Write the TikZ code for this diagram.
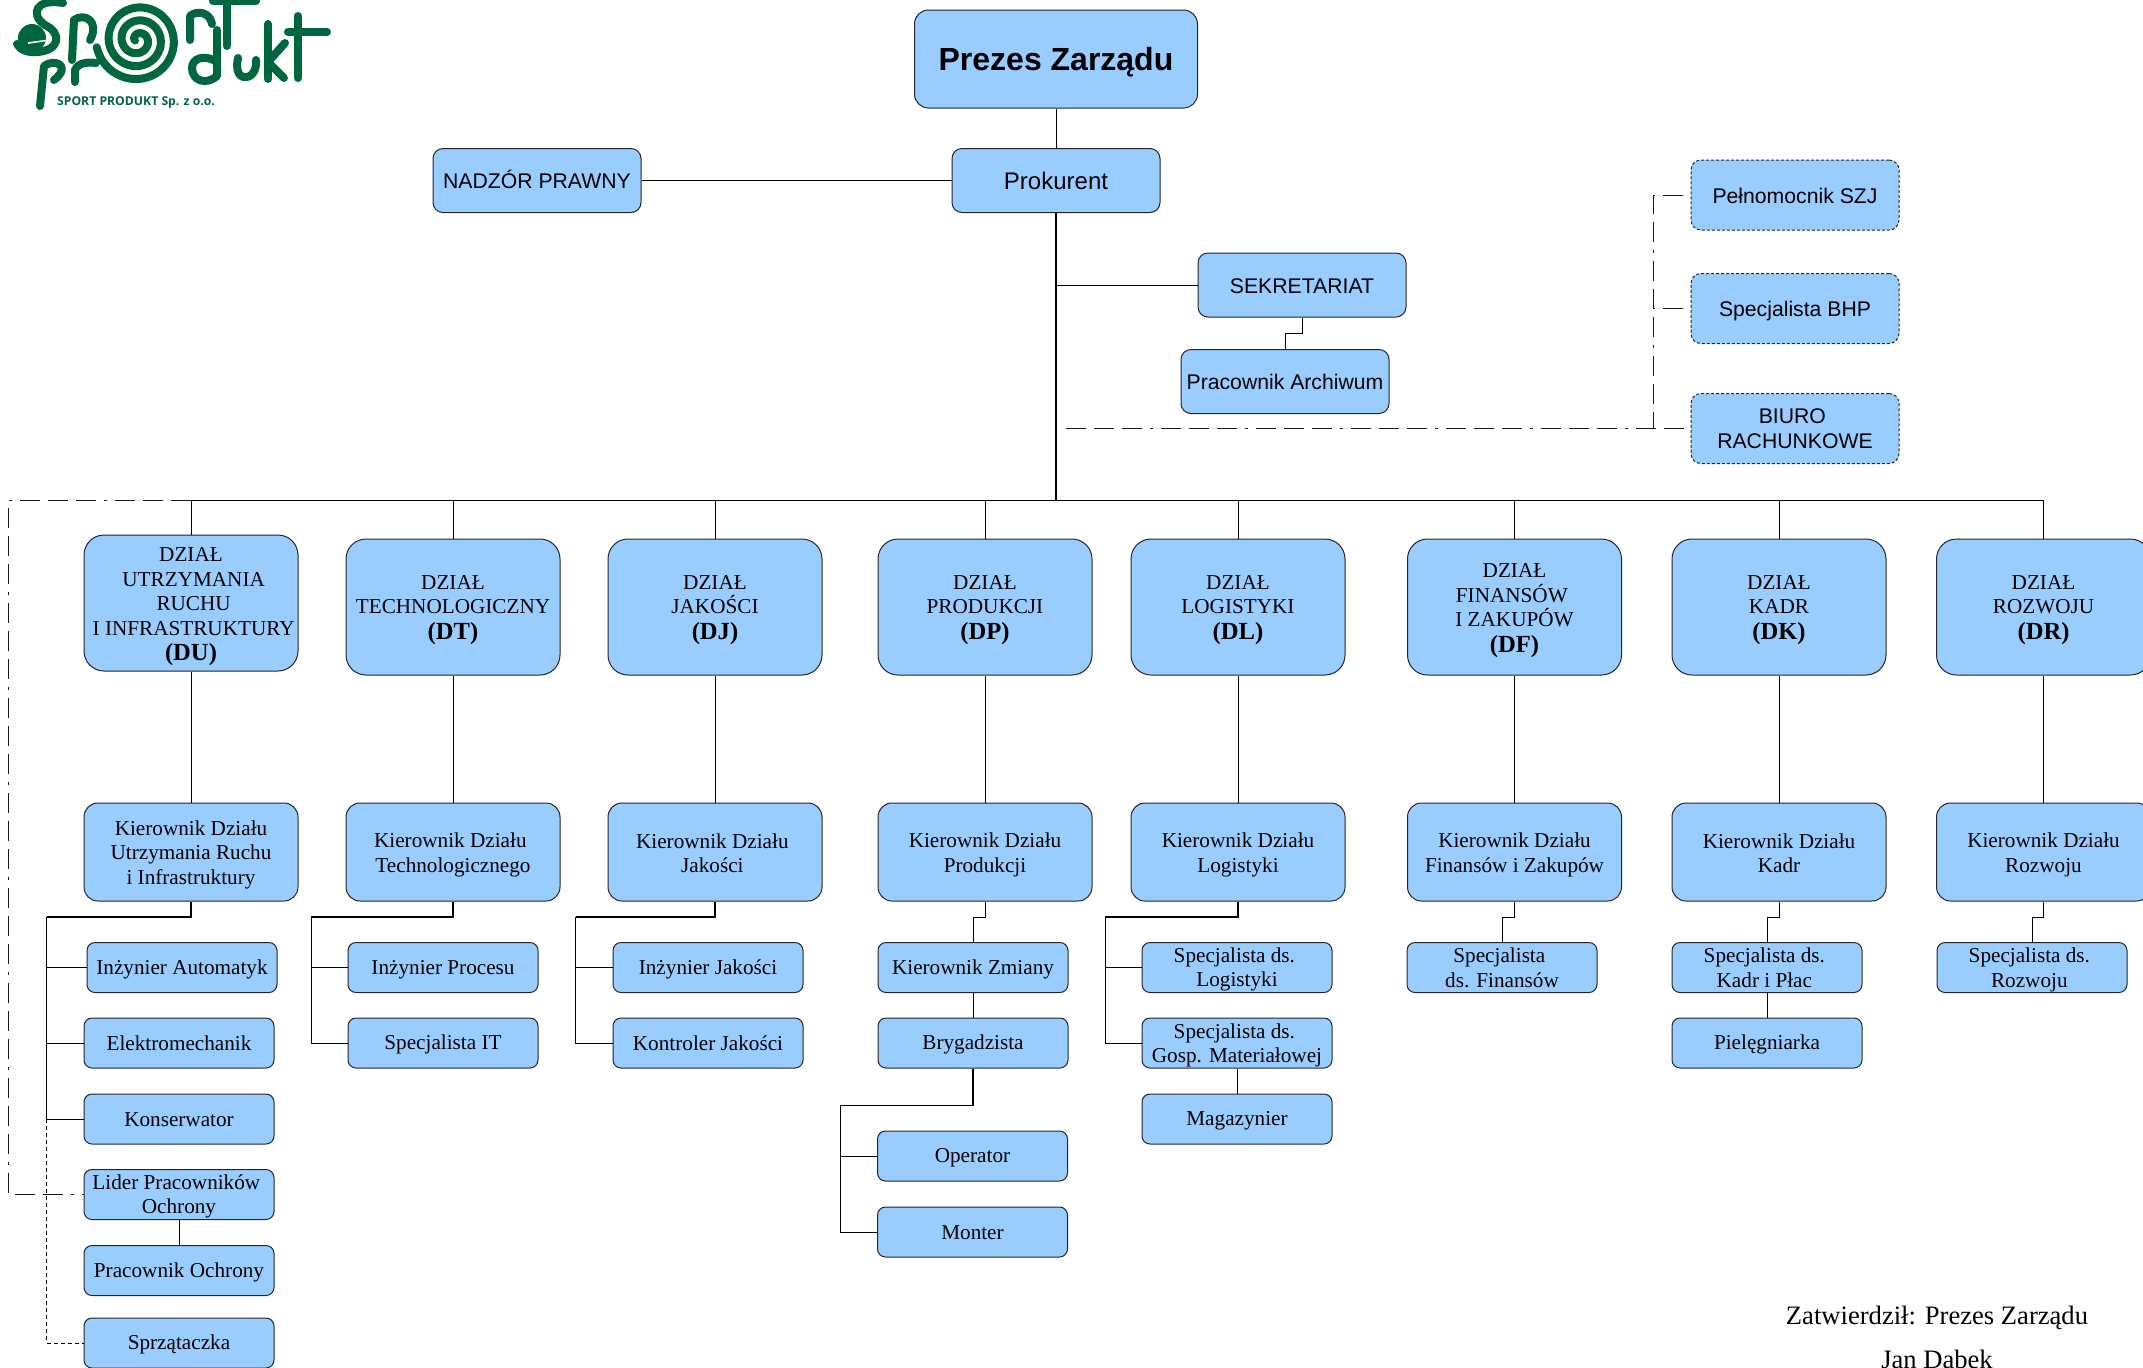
\documentclass[tikz,border=0pt]{standalone}
\usepackage{fontspec}
\setmainfont{Liberation Serif}
\setsansfont{Liberation Sans}
\newfontfamily\logofont{Open Sans}
\usepackage{tikz}
\definecolor{boxblue}{HTML}{99CCFF}
\definecolor{logogreen}{HTML}{00663F}
\newcommand{\odst}{\hbox{\kern2.65pt}}
\newcommand{\skrot}[1]{\textbf{\fontsize{12.3}{12.25}\selectfont(#1)}}

\begin{document}
\begin{tikzpicture}[x=.5pt,y=-.5pt,
		box/.style={draw=black!85,line width=.5pt,fill=boxblue,inner sep=0pt,align=center,
			font=\fontsize{10.6}{12.25}\selectfont,
			execute at begin node=\rule{0pt}{9pt},
			execute at end node=\rule[-2pt]{0pt}{2pt}},
		wyzej/.style={execute at begin node=\rule{0pt}{#1}},
		prezes/.style={box,minimum width=141.5pt,minimum height=49pt,rounded corners=7pt,
			font=\sffamily\bfseries\fontsize{16}{19}\selectfont,wyzej=14.5pt,
			execute at end node=\rule[-2.2pt]{0pt}{2.2pt}},
		gora/.style={box,minimum width=104pt,minimum height=32pt,rounded corners=5pt,
			font=\sffamily\fontsize{10.6}{12.25}\selectfont,wyzej=10pt},
		szj/.style={gora,minimum height=35pt,dash pattern=on 1.5pt off 1pt},
		dzial/.style={box,minimum width=107pt,minimum height=68pt,rounded corners=10pt,wyzej=35pt},
		kier/.style={box,minimum width=107pt,minimum height=49pt,rounded corners=7pt,wyzej=22.5pt},
		stan/.style={box,minimum width=95pt,minimum height=25pt,rounded corners=4pt},
		standwa/.style={stan,wyzej=21.75pt},
		linia/.style={draw=black,line width=.5pt},
		gruba/.style={draw=black,line width=.75pt},
		kropki/.style={draw=black,line width=.5pt,dash pattern=on 2pt off 1.5pt},
		dlugie/.style={draw=black!90,line width=.5pt,
			dash pattern=on 10pt off 4pt on 10pt off 4pt on 10pt off 4pt on 1.5pt off 4pt},
		logo/.style={draw=logogreen,line width=4pt,line cap=round,line join=round}
		]
		\useasboundingbox (0,0) rectangle (2143,1367);

		% logo
		\draw[logo] plot[domain=0:1080,samples=120,smooth] ({138+(3+.036*\x)*cos(\x+170)},{40+(3+.036*\x)*sin(\x+170)});
		\draw[logo] (63,3) .. controls (35,-2) and (30,15) .. (45,25) .. controls (62,33) and (60,50) .. (38,52) .. controls (28,53) and (20,50) .. (17,44);
		\fill[logogreen] (32,38) circle (14);
		\draw[white,line width=.8pt] (28,43) -- (50,40);
		\draw[logo] (72,60) -- (74,20) .. controls (85,12) and (100,22) .. (90,40);
		\draw[logo] (190,40) -- (190,16) .. controls (197,10) and (210,12) .. (212,24);
		\draw[logo] (227,0) -- (227,46);
		\draw[logo] (213,1) -- (256,1);
		\draw[logo] (40,106) -- (44,66) .. controls (55,58) and (72,66) .. (54,80);
		\draw[logo] (75,82) -- (75,70) .. controls (78,62) and (90,62) .. (96,63);
		\draw[logo] (217,30) -- (217,76) .. controls (205,86) and (192,80) .. (192,68) .. controls (192,58) and (205,54) .. (217,62);
		\draw[logo] (238,58) .. controls (232,85) and (258,82) .. (256,60);
		\draw[logo] (268,24) -- (268,79);
		\draw[logo] (285,43) -- (268,62) -- (284,78);
		\draw[logo] (298,16) -- (298,78);
		\draw[logo] (288,32) -- (327,32);
		\node[text=logogreen,font=\logofont\bfseries\fontsize{6.1}{8}\selectfont] (logotxt) at (136,102.5) {SPORT PRODUKT Sp. z o.o.};

		\node[prezes] (prezes) at (1056,59) {Prezes Zarządu};
		\node[gora,font=\sffamily\fontsize{12}{14}\selectfont,wyzej=11pt] (prok) at (1056,180.5) {Prokurent};
		\node[gora] (nadzor) at (537,180.5) {NADZÓR PRAWNY};
		\node[gora,wyzej=9pt] (sekr) at (1302,285) {SEKRETARIAT};
		\node[gora] (arch) at (1285,381.5) {Pracownik Archiwum};
		\node[szj] (pel) at (1795,195) {Pełnomocnik SZJ};
		\node[szj] (bhp) at (1795,308.5) {Specjalista BHP};
		\node[szj,wyzej=21.75pt] (biuro) at (1795,428.5) {BIURO\odst\\RACHUNKOWE};

		\node[dzial,wyzej=60.5pt] (du) at (191,603) {DZIAŁ\\\odst UTRZYMANIA\\\odst RUCHU\\\odst I INFRASTRUKTURY\\[.5pt]\skrot{DU}};
		\node[dzial] (dt) at (453,607) {DZIAŁ\\TECHNOLOGICZNY\\[.5pt]\skrot{DT}};
		\node[dzial] (dj) at (715,607) {DZIAŁ\\JAKOŚCI\\[.5pt]\skrot{DJ}};
		\node[dzial] (dp) at (985,607) {DZIAŁ\\PRODUKCJI\\[.5pt]\skrot{DP}};
		\node[dzial] (dl) at (1238,607) {DZIAŁ\\LOGISTYKI\\[.5pt]\skrot{DL}};
		\node[dzial,wyzej=48pt] (df) at (1514.5,607) {DZIAŁ\\FINANSÓW\odst\\I ZAKUPÓW\\[.5pt]\skrot{DF}};
		\node[dzial] (dk) at (1779,607) {DZIAŁ\\KADR\\[.5pt]\skrot{DK}};
		\node[dzial] (dr) at (2043.5,607) {DZIAŁ\\ROZWOJU\\[.5pt]\skrot{DR}};

		\node[kier,wyzej=34.7pt] (du-k) at (191,852) {Kierownik Działu\\Utrzymania Ruchu\\i Infrastruktury};
		\node[kier] (dt-k) at (453,852) {Kierownik Działu\odst\\Technologicznego};
		\node[kier] (dj-k) at (715,852) {Kierownik Działu\odst\\Jakości\odst};
		\node[kier] (dp-k) at (985,852) {Kierownik Działu\\Produkcji};
		\node[kier] (dl-k) at (1238,852) {Kierownik Działu\\Logistyki};
		\node[kier] (df-k) at (1514.5,852) {Kierownik Działu\\Finansów i Zakupów};
		\node[kier] (dk-k) at (1779,852) {Kierownik Działu\\Kadr};
		\node[kier] (dr-k) at (2043.5,852) {Kierownik Działu\\Rozwoju};

		\node[stan] (du-1) at (182,967.5) {Inżynier Automatyk};
		\node[stan] (du-2) at (179,1043) {Elektromechanik};
		\node[stan] (du-3) at (179,1119) {Konserwator};
		\node[standwa] (du-4) at (179,1194.5) {Lider Pracowników\odst\\Ochrony};
		\node[stan] (du-5) at (179,1270.5) {Pracownik Ochrony};
		\node[stan] (du-6) at (179,1343) {Sprzątaczka};

		\node[stan] (dt-1) at (443,967.5) {Inżynier Procesu};
		\node[stan] (dt-2) at (443,1043) {Specjalista IT};

		\node[stan] (dj-1) at (708,967.5) {Inżynier Jakości};
		\node[stan] (dj-2) at (708,1043) {Kontroler Jakości};

		\node[stan] (dp-1) at (973,967.5) {Kierownik Zmiany};
		\node[stan] (dp-2) at (973,1043) {Brygadzista};
		\node[stan] (dp-3) at (972.5,1156) {Operator};
		\node[stan] (dp-4) at (972.5,1232) {Monter};

		\node[standwa] (dl-1) at (1237,967.5) {Specjalista ds.\odst\\Logistyki};
		\node[standwa] (dl-2) at (1237,1043) {Specjalista ds.\odst\\Gosp. Materiałowej};
		\node[stan] (dl-3) at (1237,1119) {Magazynier};

		\node[standwa] (df-1) at (1502,967.5) {Specjalista\odst\\ds. Finansów};

		\node[standwa] (dk-1) at (1767,967.5) {Specjalista ds.\odst\\Kadr i Płac\odst};
		\node[stan] (dk-2) at (1767,1043) {Pielęgniarka};

		\node[standwa] (dr-1) at (2032,967.5) {Specjalista ds.\odst\\Rozwoju\odst};

		\node[font=\fontsize{13.3}{16}\selectfont] (zatw) at (1937,1317.5) {Zatwierdził: Prezes Zarządu};
		\node[font=\fontsize{13.3}{16}\selectfont] (jan) at (1937,1361.5) {Jan Dąbek};

		\coordinate (pien) at (1056,500.5);
		\coordinate (lewy) at (8.5,500.5);
		\coordinate (lewy-d) at (8.5,1194.5);
		\coordinate (biuro-l) at (1066,428.5);
		\coordinate (biuro-p) at (1653,428.5);
		\coordinate (du-s) at (46.5,917);
		\coordinate (dt-s) at (311,917);
		\coordinate (dj-s) at (575.5,917);
		\coordinate (dp-s) at (840,1105.5);
		\coordinate (dl-s) at (1105,917);

		\draw[linia] (prezes) -- (prok);
		\draw[linia] (nadzor) -- (prok);
		\draw[gruba] (prok) -- (pien);
		\draw[linia] (sekr.west) -- (sekr.west -| prok);
		\draw[linia] (sekr.south) |- ++(-17,16) -- (arch.north);

		\draw[dlugie] (biuro-l) -- (biuro.west);
		\draw[dlugie,dash phase=43.5pt] (pel.west) -| (biuro-p);
		\draw[dlugie,dash phase=43.5pt] (bhp.west) -- (bhp.west -| biuro-p);
		\draw[dlugie] (du.north |- lewy) -- (lewy) -- (lewy-d) -- (du-4.west);

		\draw[gruba] (du.north |- pien) -- (dr.north |- pien);
		\draw[linia] (du.north |- pien) -- (du) -- (du-k);
		\draw[linia] (dt.north |- pien) -- (dt) -- (dt-k);
		\draw[linia] (dj.north |- pien) -- (dj) -- (dj-k);
		\draw[linia] (dp.north |- pien) -- (dp) -- (dp-k);
		\draw[linia] (dl.north |- pien) -- (dl) -- (dl-k);
		\draw[linia] (df.north |- pien) -- (df) -- (df-k);
		\draw[linia] (dk.north |- pien) -- (dk) -- (dk-k);
		\draw[linia] (dr.north |- pien) -- (dr) -- (dr-k);

		\draw[gruba] (du-k.south) |- (du-s);
		\draw[gruba] (du-s) -- (du-s |- du-3);
		\draw[linia] (du-s |- du-1) -- (du-1.west);
		\draw[linia] (du-s |- du-2) -- (du-2.west);
		\draw[linia] (du-s |- du-3) -- (du-3.west);
		\draw[kropki] (du-s |- du-3) |- (du-6.west);
		\draw[linia] (du-4) -- (du-5);

		\draw[gruba] (dt-k.south) |- (dt-s);
		\draw[linia] (dt-s) |- (dt-1.west);
		\draw[linia] (dt-s) |- (dt-2.west);

		\draw[gruba] (dj-k.south) |- (dj-s);
		\draw[linia] (dj-s) |- (dj-1.west);
		\draw[linia] (dj-s) |- (dj-2.west);

		\draw[linia] (dp-k.south) |- ++(-12,16) -- (dp-1.north);
		\draw[linia] (dp-1) -- (dp-2);
		\draw[gruba] (dp-2.south) |- (dp-s);
		\draw[linia] (dp-s) |- (dp-3.west);
		\draw[linia] (dp-s) |- (dp-4.west);

		\draw[gruba] (dl-k.south) |- (dl-s);
		\draw[linia] (dl-s) |- (dl-1.west);
		\draw[linia] (dl-s) |- (dl-2.west);
		\draw[linia] (dl-2) -- (dl-3);

		\draw[linia] (df-k.south) |- ++(-12.5,16) -- (df-1.north);
		\draw[linia] (dk-k.south) |- ++(-12,16) -- (dk-1.north);
		\draw[linia] (dk-1) -- (dk-2);
		\draw[linia] (dr-k.south) |- ++(-11.5,16) -- (dr-1.north);
		\end{tikzpicture}
\end{document}
